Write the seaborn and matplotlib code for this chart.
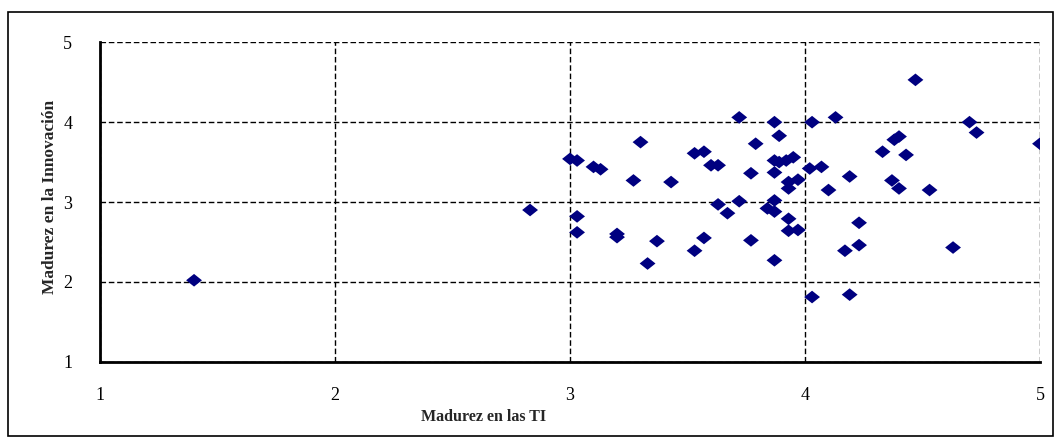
import matplotlib
matplotlib.use("Agg")
import matplotlib.pyplot as plt
from matplotlib.patches import Rectangle
import pandas as pd
import seaborn as sns

# ----------------------------
# Data
# ----------------------------
madurez_ti = [
    1.40, 2.83, 3.00, 3.03, 3.03, 3.03, 3.10, 3.13, 3.20, 3.20,
    3.27, 3.30, 3.33, 3.37, 3.43, 3.53, 3.57, 3.53, 3.57, 3.60,
    3.63, 3.63, 3.67, 3.72, 3.72, 3.77, 3.77, 3.79, 3.84, 3.87,
    3.89, 3.87, 3.89, 3.92, 3.95, 3.87, 3.87, 3.87, 3.87, 3.93,
    3.97, 3.93, 3.93, 3.93, 3.97, 4.03, 4.02, 4.07, 4.03, 4.10,
    4.13, 4.17, 4.19, 4.19, 4.23, 4.23, 4.33, 4.37, 4.38, 4.40,
    4.40, 4.43, 4.47, 4.53, 4.63, 4.70, 4.73, 5.00,
]
madurez_innovacion = [
    2.02, 2.90, 3.54, 3.52, 2.82, 2.62, 3.44, 3.41, 2.60, 2.56,
    3.27, 3.75, 2.23, 2.51, 3.25, 3.61, 3.63, 2.39, 2.55, 3.46,
    3.46, 2.97, 2.86, 4.06, 3.01, 3.36, 2.52, 3.73, 2.92, 4.00,
    3.83, 3.52, 3.50, 3.52, 3.56, 3.37, 3.02, 2.88, 2.27, 3.25,
    3.28, 3.17, 2.79, 2.64, 2.65, 4.00, 3.42, 3.44, 1.81, 3.15,
    4.06, 2.39, 3.32, 1.84, 2.74, 2.46, 3.63, 3.27, 3.78, 3.82,
    3.17, 3.59, 4.53, 3.15, 2.43, 4.00, 3.87, 3.73,
]
ticks = [1, 2, 3, 4, 5]

df = pd.DataFrame({"ti": madurez_ti, "innov": madurez_innovacion})

# ----------------------------
# Figure
# ----------------------------
sns.set_style("white")
plt.rcParams["font.family"] = ["Liberation Serif", "DejaVu Serif"]

fig = plt.figure(figsize=(10.61, 4.41), dpi=100)
ax = fig.add_axes([0.0943, 0.1798, 0.8859, 0.7242])

# wide, flat diamond like the spreadsheet marker
diamond = [(-1, 0), (0, 0.8), (1, 0), (0, -0.8), (-1, 0)]
sns.scatterplot(data=df, x="ti", y="innov", ax=ax, marker=diamond,
                s=130, color="#000080", edgecolor="none", zorder=3)

ax.set_xlim(1, 5)
ax.set_ylim(1, 5)
ax.set_xticks(ticks)
ax.set_yticks(ticks)
ax.set_xticklabels([str(t) for t in ticks], fontsize=13)
ax.set_yticklabels([str(t) for t in ticks], fontsize=13)

ax.grid(True, linestyle=(0, (4, 2)), color="black", linewidth=1.0)
ax.set_axisbelow(True)

for side in ["top", "right"]:
    ax.spines[side].set_visible(False)
for side in ["left", "bottom"]:
    ax.spines[side].set_color("black")
    ax.spines[side].set_linewidth(2)

ax.tick_params(axis="both", direction="out", length=6, width=1.5,
               color="black", labelcolor="black")
ax.tick_params(axis="x", pad=12)
ax.tick_params(axis="y", pad=14)

ax.set_xlabel("Madurez en las TI", fontsize=11.5, fontweight="bold")
ax.xaxis.set_label_coords(0.4085, -0.148)
ax.set_ylabel("Madurez en la Innovación", fontsize=12.5, fontweight="bold")
ax.yaxis.set_label_coords(-0.045, 0.516)

# outer chart frame
fig.patches.append(Rectangle((8 / 1061, 1 - 436 / 441), 1045 / 1061, 424 / 441,
                             transform=fig.transFigure, fill=False,
                             edgecolor="black", linewidth=1.2))

fig.savefig("out.png", dpi=100)
